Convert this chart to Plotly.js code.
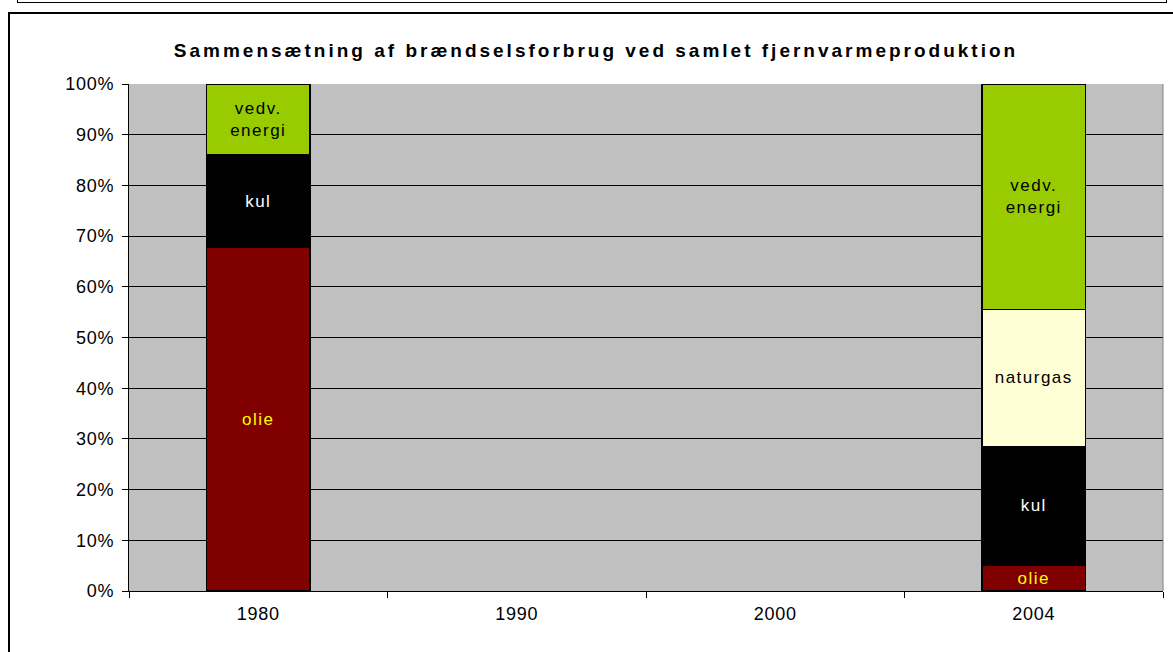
<!DOCTYPE html>
<html>
<head>
<meta charset="utf-8">
<script src="https://cdn.plot.ly/plotly-3.0.1.min.js"></script>
<style>
html,body{margin:0;padding:0;background:#fff;width:1173px;height:652px;overflow:hidden;}
#topframe{position:absolute;left:17px;top:-10px;width:1150px;height:13px;border:1px solid #000;box-sizing:border-box;}
#frame{position:absolute;left:8px;top:12px;width:1180px;height:700px;border:2px solid #000;box-sizing:border-box;}
#chart{position:absolute;left:0;top:0;width:1173px;height:652px;}
</style>
</head>
<body>
<div id="topframe"></div>
<div id="frame"></div>
<div id="chart"></div>
<script>
const years = ["1980", "1990", "2000", "2004"];
const seriesNames = ["olie", "kul", "naturgas", "vedv. energi"];
const olie = [67.7, null, null, 5.1];
const kul = [18.4, null, null, 23.4];
const naturgas = [0, null, null, 27.1];
const vedv = [13.9, null, null, 44.4];
const yTicks = [0, 10, 20, 30, 40, 50, 60, 70, 80, 90, 100];
const yTickLabels = ["0%", "10%", "20%", "30%", "40%", "50%", "60%", "70%", "80%", "90%", "100%"];

const values = [olie, kul, naturgas, vedv];
const colors = ["#800000", "#000000", "#FFFFD5", "#99CC00"];
const textColors = ["#FFFF00", "#FFFFFF", "#000000", "#000000"];
const labels = ["olie", "kul", "naturgas", "vedv.<br>energi"];
const FONT = "Arial, Liberation Sans, sans-serif";

const traces = seriesNames.map((name, i) => ({
  type: "bar",
  name: name,
  x: years,
  y: values[i].map(v => (v === 0 ? null : v)),
  text: values[i].map(v => (v ? labels[i] : "")),
  textposition: "inside",
  insidetextanchor: "middle",
  constraintext: "none",
  textfont: {family: FONT, size: 17, color: textColors[i]},
  hoverinfo: "skip",
  marker: {color: colors[i], line: {color: "#000000", width: 1.2}},
  width: 0.4
}));

const layout = {
  width: 1173,
  height: 652,
  barmode: "stack",
  showlegend: false,
  paper_bgcolor: "rgba(0,0,0,0)",
  plot_bgcolor: "#C0C0C0",
  margin: {l: 129, r: 10, t: 84, b: 61},
  title: {
    text: "<b>Sammensætning af brændselsforbrug ved samlet fjernvarmeproduktion</b>",
    font: {family: FONT, size: 19, color: "#000"},
    x: 596 / 1173, xref: "container", xanchor: "center",
    y: 1 - 50 / 652, yref: "container", yanchor: "middle"
  },
  xaxis: {
    type: "category",
    tickson: "boundaries",
    ticks: "outside",
    ticklen: 6,
    tickcolor: "#000",
    ticklabelstandoff: 6,
    tickfont: {family: FONT, size: 18, color: "#000"},
    showgrid: false,
    showline: true,
    linecolor: "#000",
    linewidth: 1,
    zeroline: false
  },
  yaxis: {
    range: [0, 100],
    tickmode: "array",
    tickvals: yTicks,
    ticktext: yTickLabels,
    ticks: "outside",
    ticklen: 6,
    tickcolor: "#000",
    ticklabelstandoff: 4,
    tickfont: {family: FONT, size: 18, color: "#000"},
    showgrid: true,
    gridcolor: "#000",
    gridwidth: 1,
    showline: true,
    linecolor: "#000",
    linewidth: 1,
    zeroline: false
  },
  shapes: [
    {type: "line", xref: "paper", yref: "paper", x0: 1, x1: 1, y0: 0, y1: 1, line: {color: "#808080", width: 1}}
  ]
};

Plotly.newPlot("chart", traces, layout, {displayModeBar: false, staticPlot: true}).then(gd => {
  gd.querySelectorAll(".gtitle").forEach(t => t.style.letterSpacing = "3px");
  gd.querySelectorAll(".xtick text, .ytick text").forEach(t => t.style.letterSpacing = "0.8px");
  gd.querySelectorAll(".bartext").forEach(t => t.style.letterSpacing = "1.5px");
});
</script>
</body>
</html>
